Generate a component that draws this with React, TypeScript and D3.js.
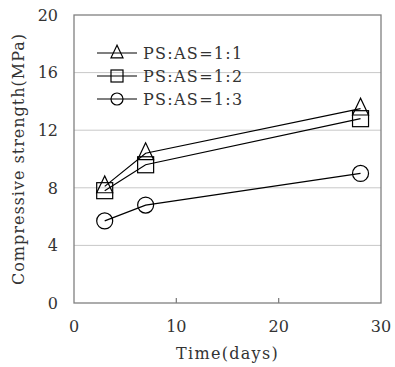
import * as d3 from 'd3';

// data
const days = [3, 7, 28];
const seriesNames = ['PS:AS=1:1', 'PS:AS=1:2', 'PS:AS=1:3'];
const ratio11 = [8.1, 10.4, 13.5];
const ratio12 = [7.8, 9.6, 12.8];
const ratio13 = [5.7, 6.8, 9.0];
const xTicks = [0, 10, 20, 30];
const yTicks = [0, 4, 8, 12, 16, 20];

const W = 395;
const H = 367;
const m = { left: 74, right: 381, top: 15, bottom: 303 };
const font = '"DejaVu Serif", "Liberation Serif", serif';

type Shape = 'triangle' | 'square' | 'circle';
const shapes: Shape[] = ['triangle', 'square', 'circle'];

function Marker({ shape, x, y, s }: { shape: Shape; x: number; y: number; s: number }) {
  const common = { fill: 'none', stroke: '#000', strokeWidth: 1.2 };
  if (shape === 'circle') return <circle cx={x} cy={y} r={s / 2} {...common} />;
  if (shape === 'square') return <rect x={x - s / 2} y={y - s / 2} width={s} height={s} {...common} />;
  const h = s * 1.05;
  const pts = [[x, y - h * 0.62], [x - s / 2, y + h * 0.38], [x + s / 2, y + h * 0.38]];
  return <polygon points={pts.map((p) => p.join(',')).join(' ')} {...common} />;
}

export default function App() {
  const x = d3.scaleLinear().domain([0, 30]).range([m.left, m.right]);
  const y = d3.scaleLinear().domain([0, 20]).range([m.bottom, m.top]);
  const series = [ratio11, ratio12, ratio13];
  const line = d3
    .line<number>()
    .x((_, i) => x(days[i]))
    .y((d) => y(d));

  return (
    <div style={{ position: 'fixed', left: 0, top: 0 }}>
      <svg width={W} height={H} style={{ display: 'block', background: '#fff' }}>
        {/* grid */}
        {yTicks.slice(1, -1).map((t) => (
          <line key={t} x1={m.left} x2={m.right} y1={y(t)} y2={y(t)} stroke="#c8c8c8" strokeWidth={1} />
        ))}
        {/* frame */}
        <rect
          x={m.left}
          y={m.top}
          width={m.right - m.left}
          height={m.bottom - m.top}
          fill="none"
          stroke="#808080"
          strokeWidth={1.3}
        />
        {xTicks.slice(1, -1).map((t) => (
          <line key={t} x1={x(t)} x2={x(t)} y1={m.bottom} y2={m.bottom - 5} stroke="#808080" strokeWidth={1.3} />
        ))}
        {/* tick labels */}
        {yTicks.map((t) => (
          <text key={t} x={m.left - 16} y={y(t)} dy="0.36em" textAnchor="end" fontFamily={font} fontSize={16} fill="#333">
            {t}
          </text>
        ))}
        {xTicks.map((t) => (
          <text key={t} x={x(t)} y={m.bottom + 29} textAnchor="middle" fontFamily={font} fontSize={16} fill="#333">
            {t}
          </text>
        ))}
        {/* axis titles */}
        <text
          transform={`translate(24,${(m.top + m.bottom) / 2}) rotate(-90)`}
          textAnchor="middle"
          fontFamily={font}
          fontSize={16}
          letterSpacing={1}
          fill="#333"
        >
          Compressive strength(MPa)
        </text>
        <text
          x={(m.left + m.right) / 2}
          y={359}
          textAnchor="middle"
          fontFamily={font}
          fontSize={16}
          letterSpacing={1.3}
          fill="#333"
        >
          Time(days)
        </text>
        {/* series */}
        {series.map((s, k) => (
          <g key={k}>
            <path d={line(s) || ''} fill="none" stroke="#000" strokeWidth={1.2} />
            {s.map((v, i) => (
              <Marker key={i} shape={shapes[k]} x={x(days[i])} y={y(v)} s={16} />
            ))}
          </g>
        ))}
        {/* legend */}
        {seriesNames.map((name, k) => {
          const ly = 53 + k * 23;
          return (
            <g key={name}>
              <line x1={97} x2={137} y1={ly} y2={ly} stroke="#000" strokeWidth={1.2} />
              <Marker shape={shapes[k]} x={117} y={ly} s={12} />
              <text x={143} y={ly} dy="0.36em" fontFamily={font} fontSize={16} letterSpacing={1.3} fill="#333">
                {name}
              </text>
            </g>
          );
        })}
      </svg>
    </div>
  );
}
